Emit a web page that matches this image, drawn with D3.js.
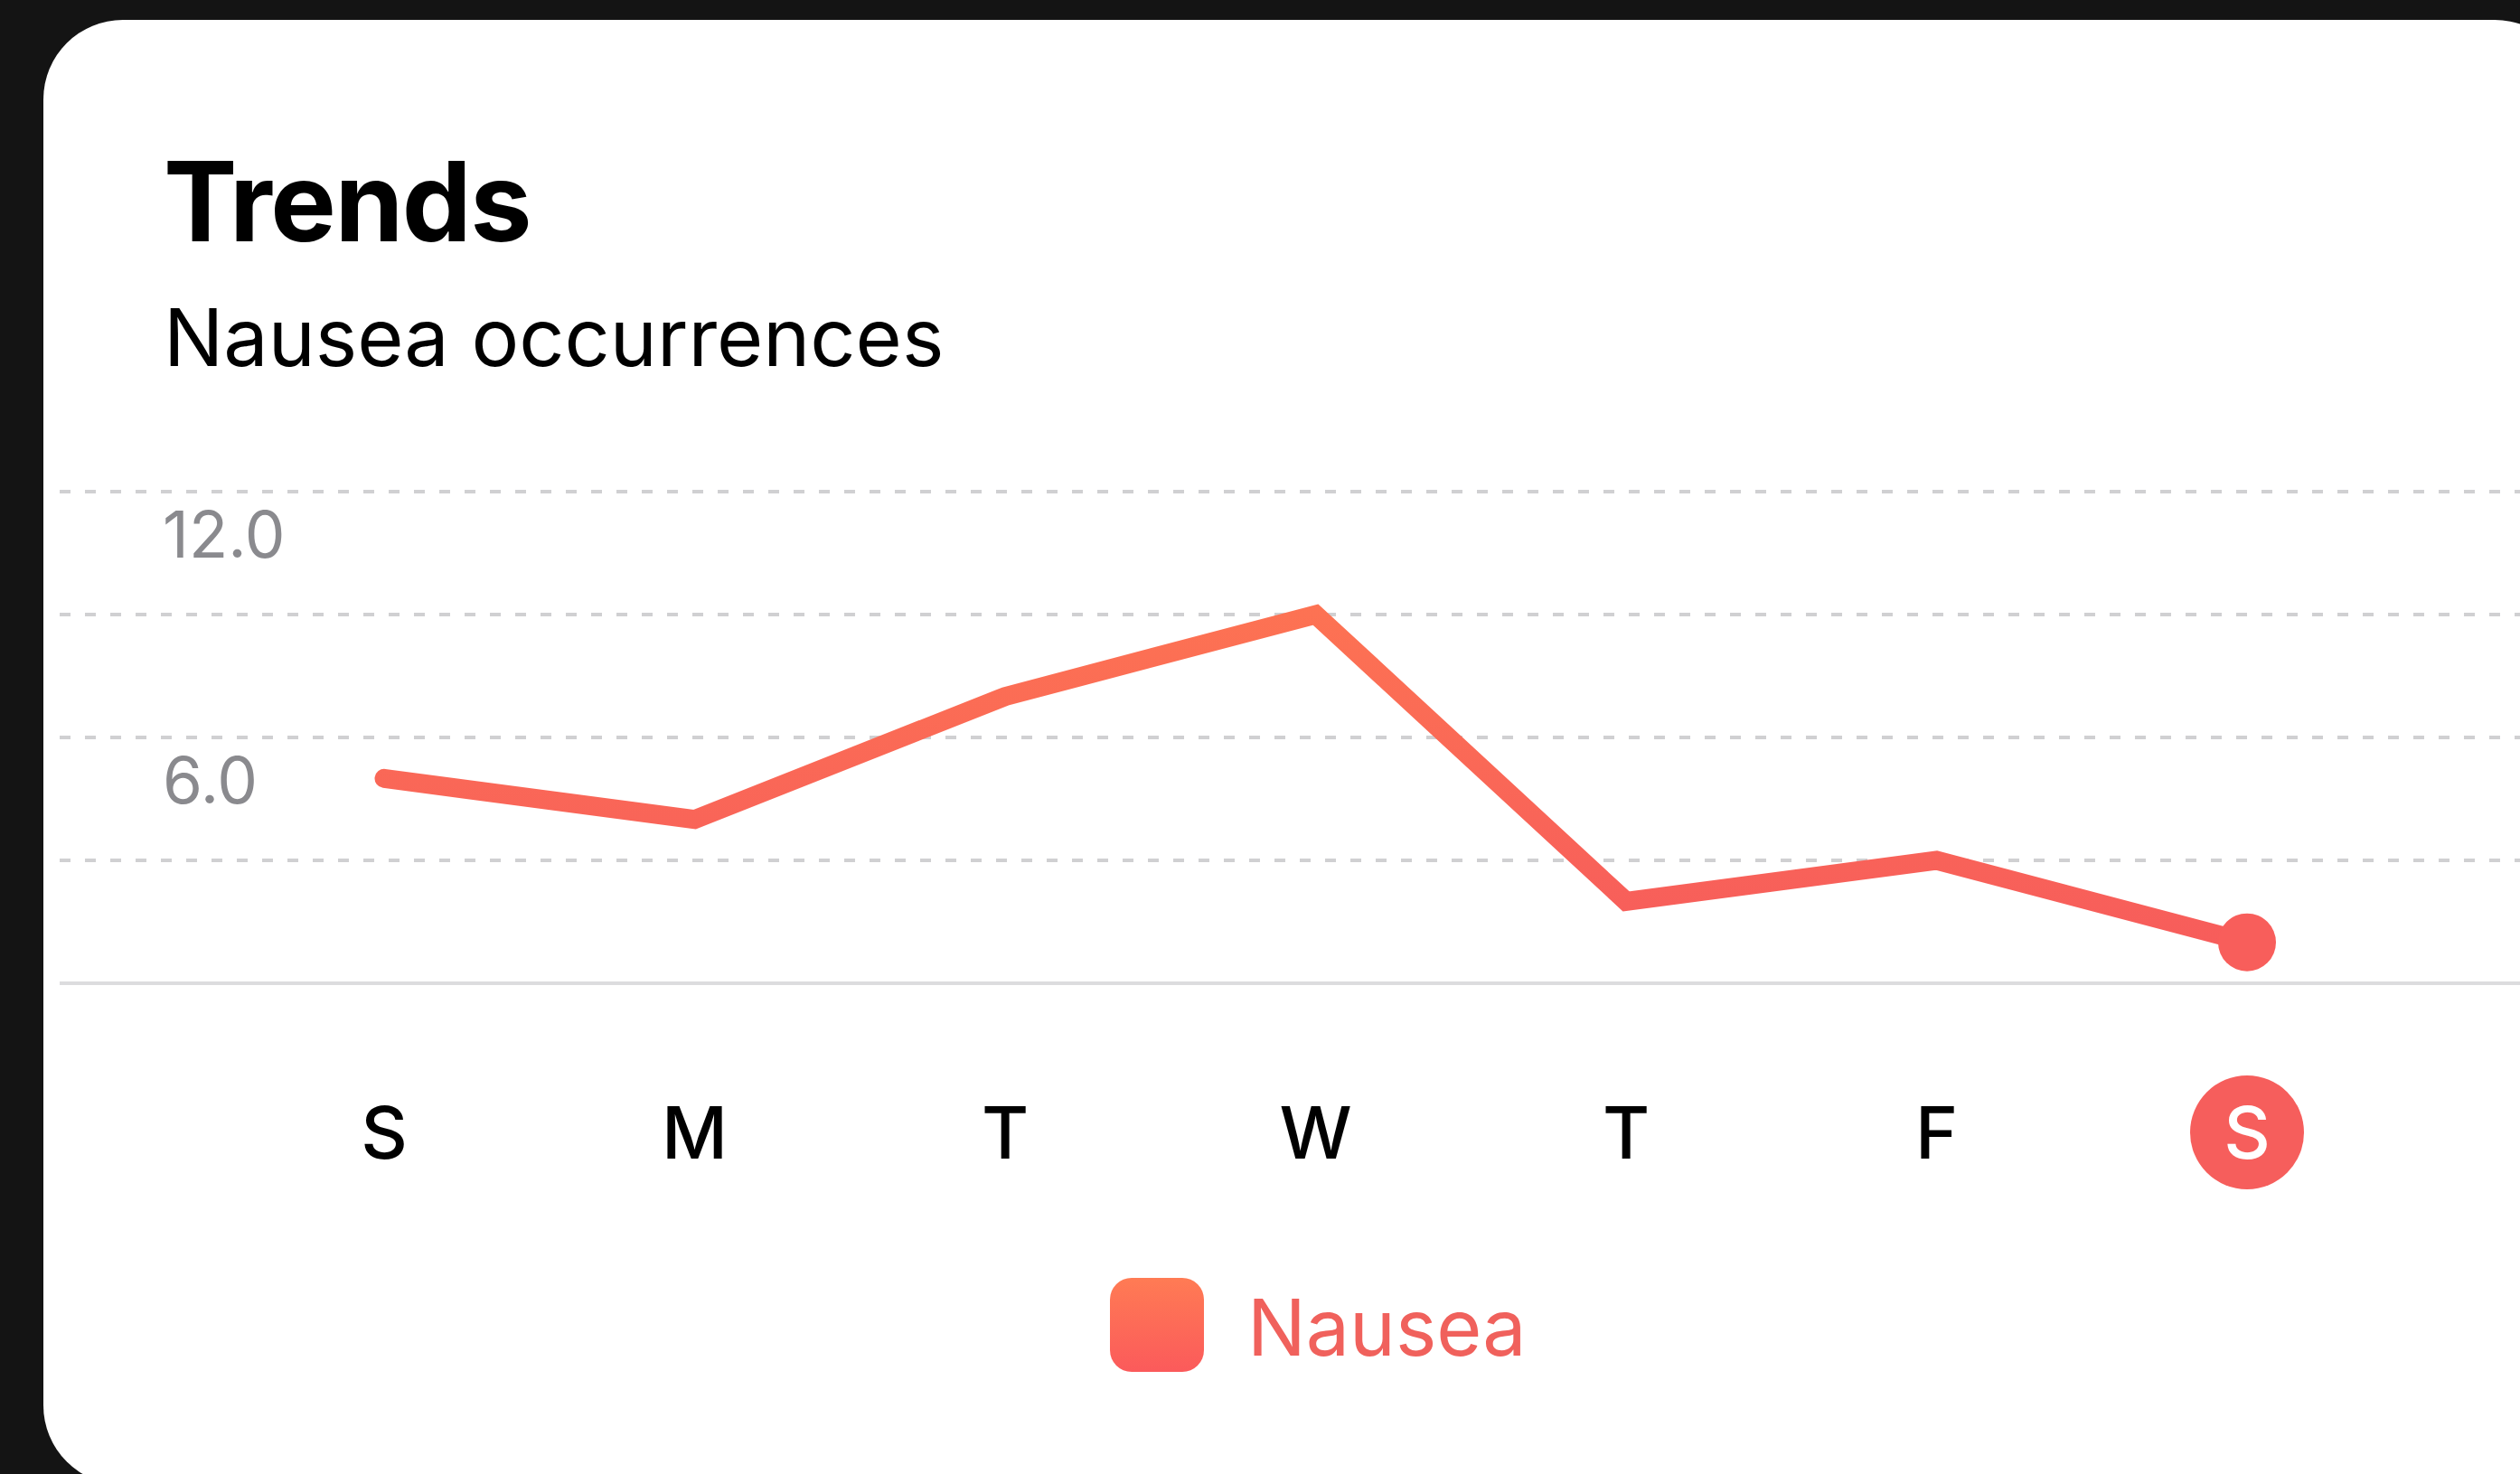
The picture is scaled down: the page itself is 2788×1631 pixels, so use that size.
<!DOCTYPE html>
<html>
<head>
<meta charset="utf-8">
<script src="https://cdn.jsdelivr.net/npm/d3@7"></script>
<style>
  html, body { margin: 0; padding: 0; background: #141414; }
  svg { display: block; }
  text { font-family: Inter, "Noto Sans", sans-serif; }
</style>
</head>
<body>
<svg id="chart" width="2788" height="1631"></svg>
<script>
// Weekly nausea log
const days = ["S", "M", "T", "W", "T", "F", "S"];
const nausea = [5, 4, 7, 9, 2, 3, 1];
const gridTicks = [3, 6, 9, 12];
const labelTicks = [6, 12];
const seriesName = "Nausea";

const W = 2788, H = 1631;
const svg = d3.select("#chart");

// gradients: warm orange at the top fading to coral red at the bottom
const defs = svg.append("defs");
const y = d3.scaleLinear().domain([0, 12]).range([1088, 544]);
const x = d3.scalePoint().domain(d3.range(days.length)).range([425, 2486]);

const lineGrad = defs.append("linearGradient")
  .attr("id", "lineGrad").attr("gradientUnits", "userSpaceOnUse")
  .attr("x1", 0).attr("x2", 0).attr("y1", y(12)).attr("y2", y(0));
lineGrad.append("stop").attr("offset", 0).attr("stop-color", "#FF7A50");
lineGrad.append("stop").attr("offset", 1).attr("stop-color", "#F65A5C");

const swatchGrad = defs.append("linearGradient")
  .attr("id", "swatchGrad").attr("x1", 0).attr("x2", 0).attr("y1", 0).attr("y2", 1);
swatchGrad.append("stop").attr("offset", 0).attr("stop-color", "#FF7B54");
swatchGrad.append("stop").attr("offset", 1).attr("stop-color", "#FB5A5B");

// card
svg.append("rect")
  .attr("x", 48).attr("y", 22).attr("width", 2800).attr("height", 1621)
  .attr("rx", 88).attr("fill", "#FFFFFF");

// headings
svg.append("text").attr("x", 181).attr("y", 267)
  .attr("font-size", 122).attr("font-weight", 700).attr("letter-spacing", -1.5)
  .attr("fill", "#000").text("Trends");
svg.append("text").attr("x", 181).attr("y", 405)
  .attr("font-size", 88).attr("font-weight", 400)
  .attr("fill", "#000").text("Nausea occurrences");

// dashed gridlines
const plotLeft = 66, plotRight = 2850;
svg.append("g").selectAll("line").data(gridTicks).join("line")
  .attr("x1", plotLeft).attr("x2", plotRight)
  .attr("y1", d => y(d)).attr("y2", d => y(d))
  .attr("stroke", "#D0D0D2").attr("stroke-width", 4)
  .attr("stroke-dasharray", "12 16");

// baseline
svg.append("line")
  .attr("x1", plotLeft).attr("x2", plotRight)
  .attr("y1", y(0)).attr("y2", y(0))
  .attr("stroke", "#DCDCDE").attr("stroke-width", 4);

// value labels sit just under their gridline
const fmt = d3.format(".1f");
svg.append("g").selectAll("text").data(labelTicks).join("text")
  .attr("x", 180).attr("y", d => y(d) + 73)
  .attr("font-size", 71).attr("fill", "#8A8A8E")
  .text(d => fmt(d));

// series line
const line = d3.line().x((d, i) => x(i)).y(d => y(d));
svg.append("path").datum(nausea)
  .attr("d", line)
  .attr("fill", "none")
  .attr("stroke", "url(#lineGrad)")
  .attr("stroke-width", 21)
  .attr("stroke-linecap", "round")
  .attr("stroke-linejoin", "miter");

// latest reading marker
const last = nausea.length - 1;
svg.append("circle")
  .attr("cx", x(last)).attr("cy", y(nausea[last])).attr("r", 32)
  .attr("fill", "#F85E5B");

// day axis
const dayY = 1253;
const dayAxis = svg.append("g");
dayAxis.append("circle")
  .attr("cx", x(last)).attr("cy", dayY).attr("r", 63).attr("fill", "#F65E5C");
dayAxis.selectAll("text").data(days).join("text")
  .attr("x", (d, i) => x(i)).attr("y", dayY + 29)
  .attr("text-anchor", "middle")
  .attr("font-size", 80).attr("font-weight", 500)
  .attr("fill", (d, i) => i === last ? "#FFFFFF" : "#000000")
  .text(d => d);

// legend
svg.append("rect")
  .attr("x", 1228).attr("y", 1414).attr("width", 104).attr("height", 104)
  .attr("rx", 24).attr("fill", "url(#swatchGrad)");
svg.append("text").attr("x", 1380).attr("y", 1500)
  .attr("font-size", 86).attr("fill", "#F0615C")
  .text(seriesName);
</script>
</body>
</html>
